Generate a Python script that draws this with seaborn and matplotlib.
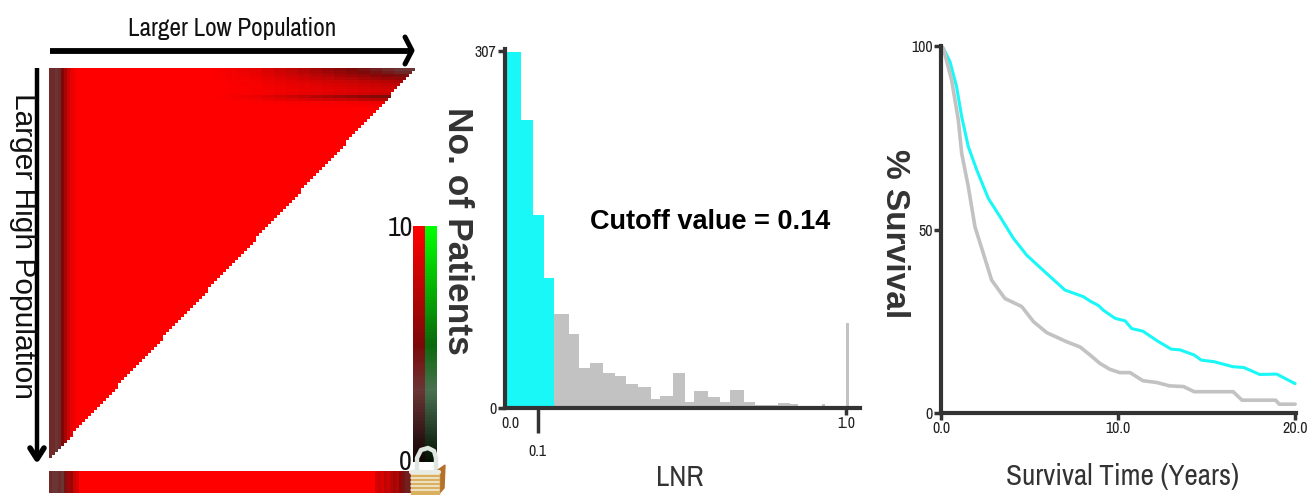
import numpy as np
import matplotlib
matplotlib.use('Agg')
import matplotlib.pyplot as plt
from matplotlib import font_manager
from matplotlib.colors import LinearSegmentedColormap
from matplotlib.patches import Polygon, Rectangle
import seaborn as sns

W, H = 1308, 495

# heat map profiles, 0 = black, 10 = pure red
left_dark = [6.5, 6.5, 7, 6.5, 5, 3.5, 2, 1, 0.5] + [0] * 113
right_dark = ([0] * 55 + [0.25] * 4 + [0.5] * 4 + [0.75] * 4 + [1] * 4 + [1.5] * 4
              + [2] * 4 + [2.5] * 4 + [3] * 4 + [3.5] * 4 + [4] * 4 + [4.5] * 4
              + [5] * 4 + [5.5] * 4 + [6] * 4 + [6.5] * 4 + [7] * 7)
top_dark = [1, 0.9, 0.75, 0.6, 0.45, 0.35, 0.3, 0.25, 0.3, 0.8, 0.45, 0.1, 0.05] + [0] * 117
strip_levels = ([3.5, 3, 3, 3.5, 3, 4.5, 6.5, 6, 8, 8.5] + [10] * 98
                + [8.5, 8, 8.5, 7.5, 8, 7, 6.5, 7, 5.5, 4.5, 4, 4])
scale_levels = np.linspace(10, 0, 80)
scale_ticks = ['10', '0']

# LNR histogram
low_edges = [0, 0.041, 0.077, 0.109, 0.139]
low_counts = [306, 248, 166, 112]
high_edges = [0.139, 0.183, 0.212, 0.245, 0.283, 0.319, 0.351, 0.386, 0.425, 0.451,
              0.49, 0.525, 0.552, 0.593, 0.628, 0.658, 0.699, 0.732, 0.799, 0.835,
              0.858, 0.929, 0.938, 1.0, 1.008]
high_counts = [81, 63, 34, 38, 30, 27, 20, 18, 7, 10, 30, 5, 14, 9, 5, 15.5, 5, 2.5,
               4, 3, 0.8, 3, 0.8, 73]

# survival curves
cyan_t = [0, 0.13, 0.51, 0.88, 1.17, 1.54, 2.02, 2.67, 3.33, 4.09, 4.84, 5.97, 7.0,
          8.04, 8.42, 8.89, 9.17, 9.83, 10.4, 10.77, 11.4, 12.2, 13.0, 13.5, 14.3,
          14.7, 15.4, 16.5, 17.1, 18.0, 18.96, 20]
cyan_s = [100, 99.4, 95.7, 88.9, 80.7, 72.6, 66.2, 58.5, 53.5, 47.6, 43, 38, 33.5,
          31.7, 30.5, 29.3, 28, 25.8, 25.1, 23, 22.3, 19.7, 17.4, 17.2, 15.8,
          14.4, 14, 12.6, 12.4, 10.5, 10.6, 8]
gray_t = [0, 0.13, 0.6, 0.98, 1.17, 1.54, 1.92, 2.39, 2.86, 3.61, 4.56, 5.22, 5.97,
          7.1, 7.85, 8.42, 8.98, 9.54, 10.1, 10.68, 11.4, 12.2, 12.9, 13.7, 14.3,
          16.5, 17.0, 18.9, 19.1, 20]
gray_s = [100, 99.4, 90.7, 79.8, 70.7, 61.7, 50.7, 43.5, 36.2, 31.2, 29, 24.9, 21.9,
          19.4, 18, 15.8, 13.5, 11.9, 11, 11, 8.8, 8.3, 7.4, 7.2, 5.8,
          5.8, 3.5, 3.5, 2.4, 2.4]

DARK = '#333333'
CYAN = '#1af7f7'
GRAY = '#c2c2c2'
WIDE = ['Liberation Sans', 'DejaVu Sans']

# pick a condensed face if the machine has one, plain sans otherwise
installed = {f.name for f in font_manager.fontManager.ttflist}
NARROW = [n for n in ('Archivo Narrow', 'Roboto Condensed', 'PT Sans Narrow') if n in installed][:1] + WIDE

sns.set_theme(style='white')
plt.rcParams['font.family'] = WIDE

red_map = LinearSegmentedColormap.from_list(
    'reds', [(0, '#120404'), (0.3, '#6a3535'), (0.5, '#7d0808'), (1, '#ff0000')])
green_map = LinearSegmentedColormap.from_list(
    'greens', [(0, '#041204'), (0.3, '#4a7050'), (0.5, '#0a6a0a'), (1, '#00ff00')])


def px_axes(fig, left, top, right, bottom):
    return fig.add_axes([left / W, 1 - bottom / H, (right - left) / W, (bottom - top) / H])


def flat_heatmap(ax, values, cmap):
    sns.heatmap(values, cmap=cmap, vmin=0, vmax=10, cbar=False,
                xticklabels=False, yticklabels=False, ax=ax)


fig = plt.figure(figsize=(W / 100, H / 100), dpi=100)

# triangle heat map
n_rows, n_cols = len(top_dark), len(left_dark)
matrix = 10 - np.array(left_dark)[None, :] - np.outer(top_dark, right_dark)
mask = np.zeros((n_rows, n_cols), dtype=bool)
for r in range(n_rows):
    mask[r, int(round(n_cols * (1 - r / n_rows))):] = True
ax_tri = px_axes(fig, 49, 68, 415, 458)
sns.heatmap(matrix, mask=mask, cmap=red_map, vmin=0, vmax=10, cbar=False,
            xticklabels=False, yticklabels=False, ax=ax_tri)

# bottom strip and colour scale
flat_heatmap(px_axes(fig, 49, 471, 411, 493), np.array([strip_levels]), red_map)
flat_heatmap(px_axes(fig, 413, 226, 425, 462), scale_levels[:, None], red_map)
flat_heatmap(px_axes(fig, 425, 226, 437, 462), scale_levels[:, None], green_map)

# histogram
ax_hist = px_axes(fig, 505, 49, 860, 407.5)
sns.histplot(x=low_edges[:-1], weights=low_counts, bins=low_edges, color=CYAN,
             alpha=1, linewidth=0, ax=ax_hist)
sns.histplot(x=high_edges[:-1], weights=high_counts, bins=high_edges, color=GRAY,
             alpha=1, linewidth=0, ax=ax_hist)
ax_hist.set_xlim(-0.006, 1.041)
ax_hist.set_ylim(0, 309)
ax_hist.set_xlabel('')
ax_hist.set_ylabel('')
ax_hist.set_xticks([0.009, 0.09, 1.0], ['0.0', '0.1', '1.0'])
ax_hist.set_yticks([0, 307], ['0', '307'])

# survival curves
ax_surv = px_axes(fig, 941, 46, 1296, 413)
sns.lineplot(x=cyan_t, y=cyan_s, color=CYAN, linewidth=2.2, ax=ax_surv, clip_on=False)
sns.lineplot(x=gray_t, y=gray_s, color=GRAY, linewidth=2.6, ax=ax_surv, clip_on=False)
ax_surv.set_xlim(0, 20.05)
ax_surv.set_ylim(0, 100)
ax_surv.set_xticks([0, 10, 20], ['0.0', '10.0', '20.0'])
ax_surv.set_yticks([0, 50, 100], ['0', '50', '100'])

for ax in (ax_hist, ax_surv):
    sns.despine(ax=ax)
    for side in ('left', 'bottom'):
        ax.spines[side].set_linewidth(3)
        ax.spines[side].set_color(DARK)
    ax.tick_params(axis='both', which='major', bottom=True, left=True, length=5, width=2.5,
                   color=DARK, pad=1, labelsize=11.5, labelcolor='#222222')
    for label in ax.get_xticklabels() + ax.get_yticklabels():
        label.set_family(NARROW)
hist_ticks = ax_hist.get_xaxis().get_major_ticks()
hist_ticks[0].tick1line.set_visible(False)
# set_pad resets the marker size, so the pad has to go first
hist_ticks[1].set_pad(21)
hist_ticks[1].tick1line.set_markersize(18)

# overlay in pixel coordinates for arrows, titles and the lock
ov = fig.add_axes([0, 0, 1, 1], facecolor='none')
ov.set_xlim(0, W)
ov.set_ylim(H, 0)
ov.axis('off')

ov.plot([50, 410], [50.5, 50.5], color='black', lw=4.2, solid_capstyle='butt')
ov.plot([405, 412, 405], [37, 50.5, 64], color='black', lw=3.6)
ov.plot([37, 37], [68, 457], color='black', lw=3.2, solid_capstyle='butt')
ov.plot([30, 37, 44], [448, 459, 448], color='black', lw=4)

ov.text(232, 29, 'Larger Low Population', family=NARROW, fontsize=18.2, color='#111111',
        ha='center', va='center')
ov.text(23, 246, 'Larger High Population', family=WIDE, fontsize=21.5, color='#111111',
        rotation=270, ha='center', va='center')
ov.text(458, 231, 'No. of Patients', family=WIDE, fontsize=25.5, weight='bold', color=DARK,
        rotation=270, ha='center', va='center')
ov.text(895, 234, '% Survival', family=WIDE, fontsize=24, weight='bold', color=DARK,
        rotation=270, ha='center', va='center')
ov.text(710, 222, 'Cutoff value = 0.14', family=WIDE, fontsize=19.5, weight='bold',
        color='black', ha='center', va='center')
ov.text(680, 477, 'LNR', family=NARROW, fontsize=21, color=DARK, ha='center', va='center')
ov.text(1122, 476, 'Survival Time (Years)', family=NARROW, fontsize=21, color=DARK,
        ha='center', va='center')
ov.text(400, 228, scale_ticks[0], family=NARROW, fontsize=20, color='#111111',
        ha='center', va='center')
ov.text(405, 462, scale_ticks[1], family=NARROW, fontsize=20, color='#111111',
        ha='center', va='center')

# padlock
ov.plot([417, 417, 421, 428, 434, 436, 436], [472, 458, 450, 448, 451, 458, 472],
        color='#dfe8e0', lw=3.2, zorder=5)
ov.add_patch(Polygon([[438, 470], [445, 465], [444, 488], [438, 495]], color='#b5702a', zorder=5))
ov.add_patch(Rectangle((411, 471), 28, 24, color='#d9b060', zorder=5))
for y in (474, 478, 482, 486, 490):
    ov.plot([411, 439], [y, y], color='#f4efe0', lw=1.1, zorder=6)
ov.plot([411, 439], [472, 472], color='#e8ece6', lw=3, zorder=6)

fig.savefig('out.png', dpi=100)
